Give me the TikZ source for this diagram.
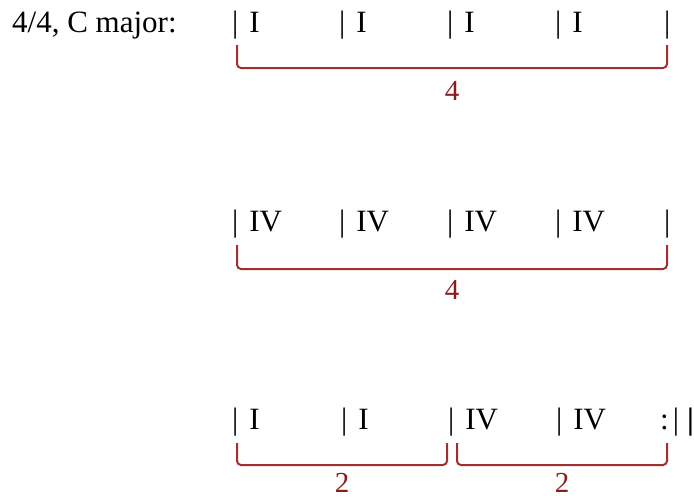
\documentclass[tikz,border=0pt]{standalone}
\usepackage{fontspec}
\setmainfont{Liberation Serif}
\definecolor{brk}{HTML}{A0302F}
\definecolor{lbl}{HTML}{8B1C1C}
\newcommand\mbar[1]{|\hspace{11pt}#1}
\tikzset{
  chord/.style={anchor=base west,inner sep=0pt,font=\fontsize{31}{36}\selectfont,text=black},
  brace/.style={draw=brk,line width=2pt,rounded corners=4pt},
  count/.style={inner sep=0pt,font=\fontsize{29}{34}\selectfont,text=lbl},
}
\begin{document}
\begin{tikzpicture}[x=1pt,y=-1pt]
\useasboundingbox (0,0) rectangle (694,499);
\node[chord] (key) at (12,32) {4/4, C major:};
% row 1
\node[chord] (r1a) at (232,32) {\mbar{I}};
\node[chord] (r1b) at (339,32) {\mbar{I}};
\node[chord] (r1c) at (447,32) {\mbar{I}};
\node[chord] (r1d) at (555,32) {\mbar{I}};
\node[chord] (r1e) at (664,32) {|};
\coordinate (b1s) at (237,45);
\coordinate (b1e) at (667,45);
\draw[brace] (b1s) |- (452,68) -| (b1e);
\node[count] (n1) at (452,91) {4};
% row 2
\node[chord] (r2a) at (232,231) {\mbar{IV}};
\node[chord] (r2b) at (339,231) {\mbar{IV}};
\node[chord] (r2c) at (447,231) {\mbar{IV}};
\node[chord] (r2d) at (555,231) {\mbar{IV}};
\node[chord] (r2e) at (664,231) {|};
\coordinate (b2s) at (237,245);
\coordinate (b2e) at (667,245);
\draw[brace] (b2s) |- (452,269) -| (b2e);
\node[count] (n2) at (452,290) {4};
% row 3
\node[chord] (r3a) at (232,429) {\mbar{I}};
\node[chord] (r3b) at (341,429) {\mbar{I}};
\node[chord] (r3c) at (448,429) {\mbar{IV}};
\node[chord] (r3d) at (556,429) {\mbar{IV}};
\node[chord] (r3e) at (660,429) {:\hspace{4pt}|\hspace{8pt}\textbf{|}};
\coordinate (b3s) at (237,443);
\coordinate (b3m) at (447,443);
\coordinate (b4s) at (457,443);
\coordinate (b4e) at (667,443);
\draw[brace] (b3s) |- (342,465) -| (b3m);
\draw[brace] (b4s) |- (562,465) -| (b4e);
\node[count] (n3) at (342,483) {2};
\node[count] (n4) at (562,483) {2};
\end{tikzpicture}
\end{document}
